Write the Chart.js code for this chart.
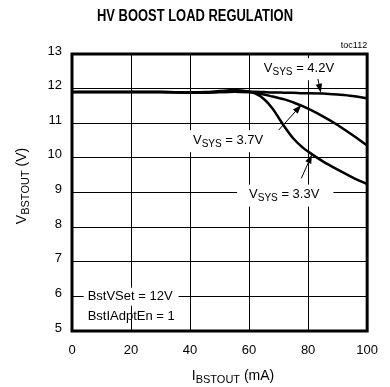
<!DOCTYPE html>
<html>
<head>
<meta charset="utf-8">
<script src="https://cdn.jsdelivr.net/npm/chart.js@4.4.1/dist/chart.umd.min.js"></script>
<style>
  html, body { margin: 0; padding: 0; background: #fff; }
  #wrap { width: 390px; height: 387px; position: relative; }
</style>
</head>
<body>
<div id="wrap"><canvas id="c" width="390" height="387"></canvas></div>
<script>
// Load current (mA) sample points shared by all three curves
const loadCurrent = [0, 10, 20, 30, 40, 45, 50, 55, 60, 62, 65, 68, 70, 72, 75, 78, 80, 85, 90, 95, 100];
// Boost output voltage (V) for each system voltage
const vout42 = [11.9, 11.9, 11.9, 11.9, 11.89, 11.9, 11.93, 11.96, 11.92, 11.91, 11.9, 11.89, 11.89, 11.88, 11.88, 11.87, 11.87, 11.86, 11.83, 11.79, 11.72];
const vout37 = [11.9, 11.9, 11.9, 11.9, 11.89, 11.89, 11.9, 11.91, 11.9, 11.88, 11.83, 11.77, 11.73, 11.69, 11.6, 11.5, 11.42, 11.2, 10.95, 10.66, 10.36];
const vout33 = [11.9, 11.9, 11.9, 11.9, 11.89, 11.89, 11.9, 11.91, 11.9, 11.86, 11.7, 11.42, 11.16, 10.9, 10.56, 10.31, 10.18, 9.9, 9.66, 9.44, 9.24];
const seriesNames = ['V_SYS = 4.2V', 'V_SYS = 3.7V', 'V_SYS = 3.3V'];
const xTicks = [0, 20, 40, 60, 80, 100];
const yTicks = [5, 6, 7, 8, 9, 10, 11, 12, 13];

const FONT = '"Liberation Sans", Arial, Helvetica, sans-serif';

function pts(ys) { return loadCurrent.map((x, i) => ({ x: x, y: ys[i] })); }

// Curve labels with arrows, positioned in data units
const curveNotes = [
  { main: 'V', sub: 'SYS', rest: ' = 4.2V', x: 65, y: 12.59, from: [83.3, 12.28], to: [84.3, 11.88] },
  { main: 'V', sub: 'SYS', rest: ' = 3.7V', x: 41, y: 10.51, from: [70, 10.8], to: [77.7, 11.53] },
  { main: 'V', sub: 'SYS', rest: ' = 3.3V', x: 60, y: 8.94, from: [77.7, 9.41], to: [81.3, 10.1], padL: 12, padR: 14 }
];
const condNotes = [
  { text: 'BstVSet = 12V', x: 5.3, y: 5.99 },
  { text: 'BstIAdptEn = 1', x: 5.3, y: 5.43 }
];

function drawSubText(ctx, x, y, main, sub, rest, size) {
  // draws main + subscript + rest starting at x, vertically centred on y; returns width
  ctx.textBaseline = 'middle';
  ctx.textAlign = 'left';
  ctx.font = size + 'px ' + FONT;
  let w = ctx.measureText(main).width;
  ctx.fillText(main, x, y);
  ctx.font = Math.round(size * 0.78) + 'px ' + FONT;
  ctx.fillText(sub, x + w, y + size * 0.3);
  w += ctx.measureText(sub).width;
  ctx.font = size + 'px ' + FONT;
  ctx.fillText(rest, x + w, y);
  w += ctx.measureText(rest).width;
  return w;
}
function measureSubText(ctx, main, sub, rest, size) {
  ctx.font = size + 'px ' + FONT;
  let w = ctx.measureText(main).width + ctx.measureText(rest).width;
  ctx.font = Math.round(size * 0.78) + 'px ' + FONT;
  return w + ctx.measureText(sub).width;
}

function arrow(ctx, x1, y1, x2, y2) {
  const ang = Math.atan2(y2 - y1, x2 - x1);
  const L = 9, W = 3.2;
  ctx.strokeStyle = '#000';
  ctx.lineWidth = 1;
  ctx.beginPath();
  ctx.moveTo(x1, y1);
  ctx.lineTo(x2 - Math.cos(ang) * L * 0.8, y2 - Math.sin(ang) * L * 0.8);
  ctx.stroke();
  ctx.fillStyle = '#000';
  ctx.beginPath();
  ctx.moveTo(x2, y2);
  ctx.lineTo(x2 - Math.cos(ang) * L + Math.sin(ang) * W, y2 - Math.sin(ang) * L - Math.cos(ang) * W);
  ctx.lineTo(x2 - Math.cos(ang) * L - Math.sin(ang) * W, y2 - Math.sin(ang) * L + Math.cos(ang) * W);
  ctx.closePath();
  ctx.fill();
}

const decor = {
  id: 'decor',
  beforeDatasetsDraw(chart) {
    const ctx = chart.ctx, xs = chart.scales.x, ys = chart.scales.y;
    ctx.save();
    // white backing behind the notes so grid lines stop around them
    ctx.fillStyle = '#fff';
    curveNotes.forEach(n => {
      const w = measureSubText(ctx, n.main, n.sub, n.rest, 13);
      const x = xs.getPixelForValue(n.x), y = ys.getPixelForValue(n.y);
      const pl = n.padL || 5, pr = n.padR || 5;
      ctx.fillRect(x - pl, y - 10, w + pl + pr, 22);
    });
    ctx.font = '13px ' + FONT;
    const c0 = condNotes[0];
    const cw = ctx.measureText(c0.text).width;
    ctx.fillRect(xs.getPixelForValue(c0.x) - 4, ys.getPixelForValue(c0.y) - 9, cw + 10, 18);
    ctx.restore();
  },
  afterDraw(chart) {
    const ctx = chart.ctx, a = chart.chartArea, xs = chart.scales.x, ys = chart.scales.y;
    ctx.save();
    // heavy frame
    ctx.strokeStyle = '#000';
    ctx.lineWidth = 3;
    ctx.strokeRect(a.left, a.top, a.right - a.left, a.bottom - a.top);

    ctx.fillStyle = '#000';
    // title in a condensed bold face (horizontally compressed)
    ctx.save();
    ctx.font = 'bold 16px ' + FONT;
    ctx.textAlign = 'center';
    ctx.textBaseline = 'middle';
    const tw = ctx.measureText('HV BOOST LOAD REGULATION').width;
    ctx.translate(195, 17);
    ctx.scale(196 / tw, 1);
    ctx.fillText('HV BOOST LOAD REGULATION', 0, 0);
    ctx.restore();

    // figure tag
    ctx.font = '9px ' + FONT;
    ctx.textAlign = 'right';
    ctx.textBaseline = 'middle';
    ctx.fillText('toc112', a.right, 46);

    // curve notes and arrows
    curveNotes.forEach(n => {
      ctx.fillStyle = '#000';
      drawSubText(ctx, xs.getPixelForValue(n.x), ys.getPixelForValue(n.y), n.main, n.sub, n.rest, 13);
      arrow(ctx, xs.getPixelForValue(n.from[0]), ys.getPixelForValue(n.from[1]),
                 xs.getPixelForValue(n.to[0]), ys.getPixelForValue(n.to[1]));
    });

    // test conditions
    ctx.fillStyle = '#000';
    ctx.font = '13px ' + FONT;
    ctx.textAlign = 'left';
    ctx.textBaseline = 'middle';
    condNotes.forEach(n => ctx.fillText(n.text, xs.getPixelForValue(n.x), ys.getPixelForValue(n.y)));

    // x-axis title
    const xw = measureSubText(ctx, 'I', 'BSTOUT', ' (mA)', 14);
    ctx.fillStyle = '#000';
    drawSubText(ctx, 233 - xw / 2, 376, 'I', 'BSTOUT', ' (mA)', 14);

    // y-axis title, rotated
    ctx.translate(22, 186);
    ctx.rotate(-Math.PI / 2);
    const yw = measureSubText(ctx, 'V', 'BSTOUT', ' (V)', 14);
    drawSubText(ctx, -yw / 2, 0, 'V', 'BSTOUT', ' (V)', 14);
    ctx.restore();
  }
};

const ds = (data) => ({
  data: data,
  borderColor: '#000',
  borderWidth: 2.5,
  pointRadius: 0,
  fill: false,
  cubicInterpolationMode: 'monotone'
});

new Chart(document.getElementById('c'), {
  type: 'line',
  data: {
    datasets: [
      Object.assign(ds(pts(vout42)), { label: seriesNames[0] }),
      Object.assign(ds(pts(vout37)), { label: seriesNames[1] }),
      Object.assign(ds(pts(vout33)), { label: seriesNames[2] })
    ]
  },
  options: {
    responsive: false,
    animation: false,
    devicePixelRatio: 1,
    layout: { padding: { top: 54, right: 18, left: 0, bottom: 0 } },
    plugins: { legend: { display: false }, tooltip: { enabled: false }, title: { display: false } },
    scales: {
      x: {
        type: 'linear',
        min: 0, max: 100,
        afterBuildTicks: s => { s.ticks = xTicks.map(v => ({ value: v })); },
        afterFit: s => { s.height = 56; },
        grid: { color: '#000', lineWidth: 1, drawTicks: false },
        border: { display: false },
        ticks: { color: '#000', font: { size: 13, family: FONT }, padding: 12, maxRotation: 0 }
      },
      y: {
        type: 'linear',
        min: 5, max: 13,
        afterBuildTicks: s => { s.ticks = yTicks.map(v => ({ value: v })); },
        afterFit: s => { s.width = 72; },
        grid: { color: '#000', lineWidth: 1, drawTicks: false },
        border: { display: false },
        ticks: { color: '#000', font: { size: 13, family: FONT }, padding: 10, labelOffset: -3 }
      }
    }
  },
  plugins: [decor]
});
</script>
</body>
</html>
